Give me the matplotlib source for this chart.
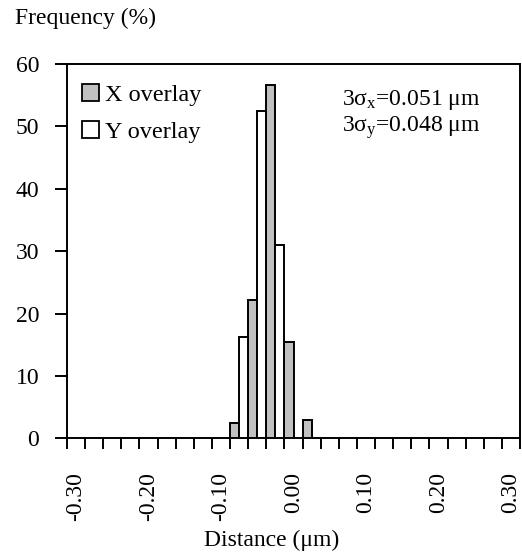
import numpy as np
import matplotlib
matplotlib.use("Agg")
import matplotlib.pyplot as plt
from matplotlib.patches import Patch

plt.rcParams['font.family'] = ['Liberation Serif', 'DejaVu Serif']
plt.rcParams['mathtext.fontset'] = 'custom'
plt.rcParams['mathtext.rm'] = 'Liberation Serif'
plt.rcParams['mathtext.it'] = 'Liberation Serif:italic'

# Data
categories = [round(-0.30 + 0.025 * i, 3) for i in range(25)]
x_overlay = [0, 0, 0, 0, 0, 0, 0, 0, 0, 2.5, 22.2, 56.6, 15.5, 3.0,
             0, 0, 0, 0, 0, 0, 0, 0, 0, 0, 0]
y_overlay = [0, 0, 0, 0, 0, 0, 0, 0, 0, 16.3, 52.5, 31.0, 0, 0,
             0, 0, 0, 0, 0, 0, 0, 0, 0, 0, 0]
tick_labels = ['-0.30', '-0.20', '-0.10', '0.00', '0.10', '0.20', '0.30']
label_idx = [0, 4, 8, 12, 16, 20, 24]

W, H = 522, 553
fs = 17
fig = plt.figure(figsize=(W / 100, H / 100), dpi=100)
ax = fig.add_axes([67/W, 1 - 438.3/H, (520 - 67)/W, (438.3 - 64)/H])

pos = np.arange(len(categories))
xv = np.array(x_overlay, dtype=float)
yv = np.array(y_overlay, dtype=float)
mx = xv > 0
my = yv > 0
ax.bar(pos[mx] - 0.25, xv[mx], width=0.5, color='#c0c0c0', edgecolor='black',
       linewidth=1.4, zorder=3)
ax.bar(pos[my] + 0.25, yv[my], width=0.5, color='white', edgecolor='black',
       linewidth=1.4, zorder=3)

ax.set_xlim(-0.5, len(categories) - 0.5)
ax.set_ylim(0, 60)
ax.set_yticks(range(0, 61, 10))
ax.tick_params(axis='y', direction='out', length=9, width=1.4, labelsize=fs, pad=11)

ax.set_xticks(np.arange(len(categories) + 1) - 0.5)
ax.set_xticklabels([])
ax.tick_params(axis='x', which='major', direction='out', length=8, width=1.4)
ax.set_xticks(label_idx, minor=True)
ax.set_xticklabels(tick_labels, minor=True, rotation=90, fontsize=fs)
ax.tick_params(axis='x', which='minor', length=0, pad=24)

for s in ax.spines.values():
    s.set_linewidth(1.4)

fig.text(272/W, 1 - 540/H, 'Distance (μm)', fontsize=fs, ha='center', va='center')
fig.text(15/W, 1 - 18/H, 'Frequency (%)', fontsize=fs, ha='left', va='center')

handles = [Patch(facecolor='#c0c0c0', edgecolor='black', linewidth=1.3, label='X overlay'),
           Patch(facecolor='white', edgecolor='black', linewidth=1.3, label='Y overlay')]
fig.legend(handles=handles, loc='upper left', bbox_to_anchor=(82/W, 1 - 84/H), frameon=False,
           fontsize=17.5, handlelength=0.7, handleheight=0.7, handletextpad=0.25,
           labelspacing=0.63, borderaxespad=0, borderpad=0)

fig.text(342/W, 1 - 100/H, '3σ$_{\\rm x}$=0.051 μm', fontsize=fs, ha='left', va='center')
fig.text(342/W, 1 - 128/H, '3σ$_{\\rm y}$=0.048 μm', fontsize=fs, ha='left', va='center')

fig.savefig('out.png', dpi=100)
